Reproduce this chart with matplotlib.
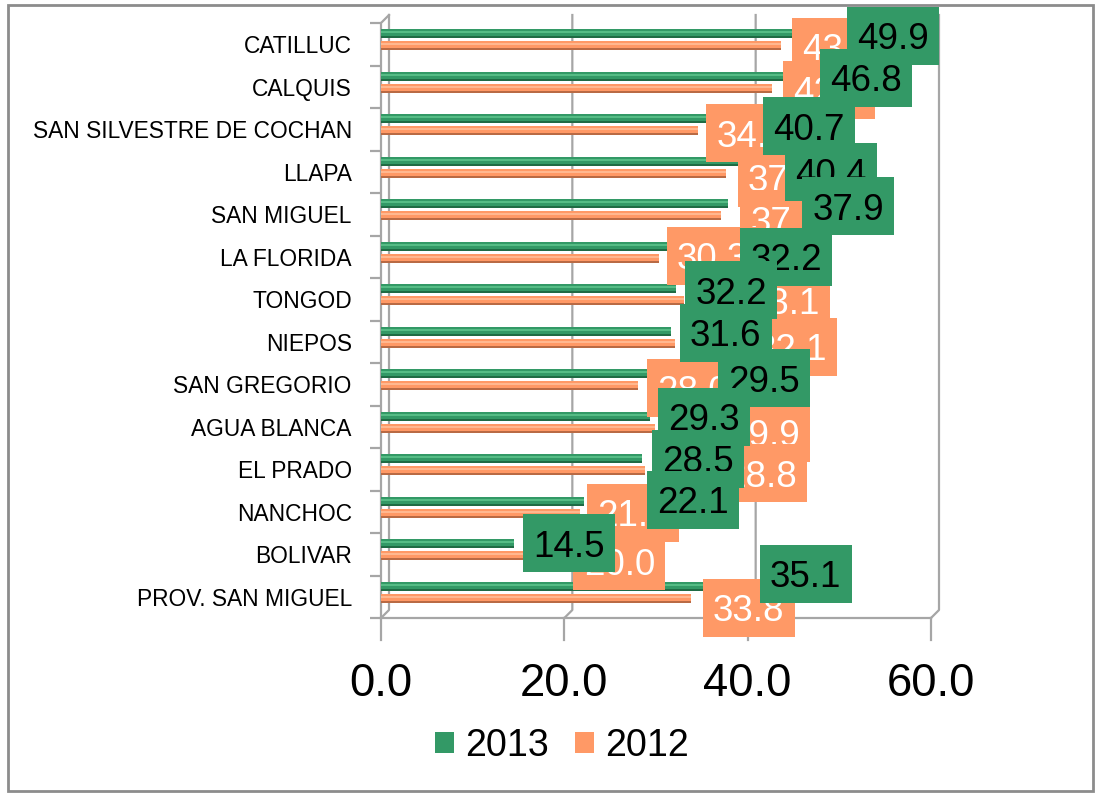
import matplotlib
matplotlib.use("Agg")
import matplotlib.pyplot as plt
from matplotlib import font_manager as fm
from matplotlib import transforms
from matplotlib.patches import Rectangle, Patch
from matplotlib.lines import Line2D

# ---------------- data ----------------
categories = ['CATILLUC', 'CALQUIS', 'SAN SILVESTRE DE COCHAN', 'LLAPA', 'SAN MIGUEL',
              'LA FLORIDA', 'TONGOD', 'NIEPOS', 'SAN GREGORIO', 'AGUA BLANCA',
              'EL PRADO', 'NANCHOC', 'BOLIVAR', 'PROV. SAN MIGUEL']
values_2013 = [49.9, 46.8, 40.7, 40.4, 37.9, 32.2, 32.2, 31.6, 29.5, 29.3, 28.5, 22.1, 14.5, 35.1]
values_2012 = [43.6, 42.7, 34.6, 37.6, 37.1, 30.3, 33.1, 32.1, 28.0, 29.9, 28.8, 21.7, 20.0, 33.8]
series_names = ['2013', '2012']
x_ticks = [0, 20, 40, 60]

# label nudges (pixels): dx from bar end, dy from category centre (downwards positive)
g_dx = [9, 10, 9, 34, 74, 64, 9, 9, 67, 8, 10, 63, 9, 57]
g_dy = [-8.5, -9, -3, 0, -8, 0, -9, -9, -6, -10, -10.5, -12, -11, -23]
o_dx = [11, 11, 8, 12, 19, 8, 54, 70, 9, 63, 70, 7, 9, 12]
o_dy = [2.5, 3, 4, 6, 5, -1, 1, 5, 4, 6, 4, 1, 7, 11]

# ---------------- fonts ----------------
def pick(names):
    for n in names:
        try:
            fm.findfont(fm.FontProperties(family=n), fallback_to_default=False)
            return n, True
        except Exception:
            pass
    return 'Liberation Sans', False

FONT, narrow = pick(['Liberation Sans Narrow', 'DejaVu Sans Condensed'])
k = 1.0 if narrow else 0.82
plt.rcParams['font.family'] = [FONT, 'DejaVu Sans']

GREEN = '#339966'
GREEN_D = '#1F6B44'
GREEN_L = '#55BC85'
ORANGE = '#FF9966'
ORANGE_D = '#B96A44'
ORANGE_L = '#FFB890'
GRID = '#A6A6A6'

W, H = 1099, 793
fig = plt.figure(figsize=(W / 100, H / 100), dpi=100)
fig.patch.set_facecolor('white')

ax_l, ax_r, ax_t, ax_b = 381, 931, 23, 618
ax = fig.add_axes([ax_l / W, (H - ax_b) / H, (ax_r - ax_l) / W, (ax_b - ax_t) / H])
ax.set_xlim(0, 60)
n = len(categories)
ax.set_ylim(n - 0.5, -0.5)
ax.patch.set_alpha(0)
for s in ax.spines.values():
    s.set_visible(False)

ppu_y = (ax_b - ax_t) / n  # pixels per category
bh = 9 / ppu_y
g_off = -10.5 / ppu_y
o_off = 1.5 / ppu_y
ys = list(range(n))

# 3D-ish bars
for vals, off, cm, cd, cl in [(values_2013, g_off, GREEN, GREEN_D, GREEN_L),
                              (values_2012, o_off, ORANGE, ORANGE_D, ORANGE_L)]:
    yy = [y + off for y in ys]
    ax.barh(yy, vals, height=bh, color=cd, zorder=3)
    ax.barh([y - bh * 0.1 for y in yy], vals, height=bh * 0.75, color=cm, zorder=4)
    ax.barh([y - bh * 0.18 for y in yy], vals, height=bh * 0.25, color=cl, zorder=5)

# back wall gridlines & box (depth offset 8 px)
D = 8
to_disp = ax.transData.transform
ident = transforms.IdentityTransform()
y_front_b = H - ax_b
y_back_t = H - (ax_t - D)
y_back_b = H - (ax_b - D)
for xv in x_ticks:
    xf = to_disp((xv, 0))[0]
    ax.add_line(Line2D([xf + D, xf + D, xf], [y_back_t, y_back_b, y_front_b],
                       transform=ident, color=GRID, lw=1.6, zorder=1, clip_on=False))
    ax.add_line(Line2D([xf, xf], [y_front_b, y_front_b - 22], transform=ident,
                       color=GRID, lw=1.6, zorder=1, clip_on=False))
x0 = to_disp((0, 0))[0]
x60 = to_disp((60, 0))[0]
ax.add_line(Line2D([x0, x60], [y_front_b, y_front_b], transform=ident,
                   color=GRID, lw=1.6, zorder=1, clip_on=False))
ax.add_line(Line2D([x0, x0, x0 + D], [y_front_b, H - ax_t, y_back_t], transform=ident,
                   color=GRID, lw=1.6, zorder=1, clip_on=False))

# axes ticks / labels
ax.set_xticks(x_ticks)
ax.set_xticklabels([f'{t:.1f}' for t in x_ticks], fontsize=40 * k)
ax.tick_params(axis='x', length=0, pad=32, colors='black')
ax.set_yticks(ys)
ax.set_yticklabels(categories, fontsize=20 * k)
ax.tick_params(axis='y', which='major', length=0, pad=21)
ax.set_yticks([y - 0.5 for y in ys] + [n - 0.5], minor=True)
ax.tick_params(axis='y', which='minor', length=8, color=GRID, width=1.6)

# data labels
BW, BH = 92, 58
fs_lab = 26.5 if not narrow else 31

def draw_label(v, i, dx, dy, face, tcolor, z):
    px, py = to_disp((v, i))
    left = px + dx
    cy = py - dy
    ax.add_patch(Rectangle((left, cy - BH / 2), BW, BH, transform=ident, facecolor=face,
                           edgecolor='none', zorder=z, clip_on=False))
    ax.text(left + BW / 2, cy, f'{v:.1f}', transform=ident, ha='center', va='center_baseline',
            fontsize=fs_lab, color=tcolor, zorder=z + 0.01, clip_on=False)

z = 10
for i, v in enumerate(values_2012):
    draw_label(v, i, o_dx[i], o_dy[i], ORANGE, 'white', z)
    z += 0.1
for i, v in enumerate(values_2013):
    draw_label(v, i, g_dx[i], g_dy[i], GREEN, 'black', z)
    z += 0.1

# legend
handles = [Patch(facecolor=GREEN, edgecolor='none'), Patch(facecolor=ORANGE, edgecolor='none')]
fig.legend(handles, series_names, loc='center', bbox_to_anchor=(562 / W, (H - 746) / H),
           ncol=2, frameon=False, fontsize=33 * k, handlelength=0.5, handleheight=0.5,
           handletextpad=0.3, columnspacing=0.7)

# outer border
fig.add_artist(Rectangle((8 / W, 2 / H), (W - 14) / W, (H - 7) / H, transform=fig.transFigure,
                         facecolor='none', edgecolor='#8C8C8C', lw=2))

fig.savefig('out.png', dpi=100)
